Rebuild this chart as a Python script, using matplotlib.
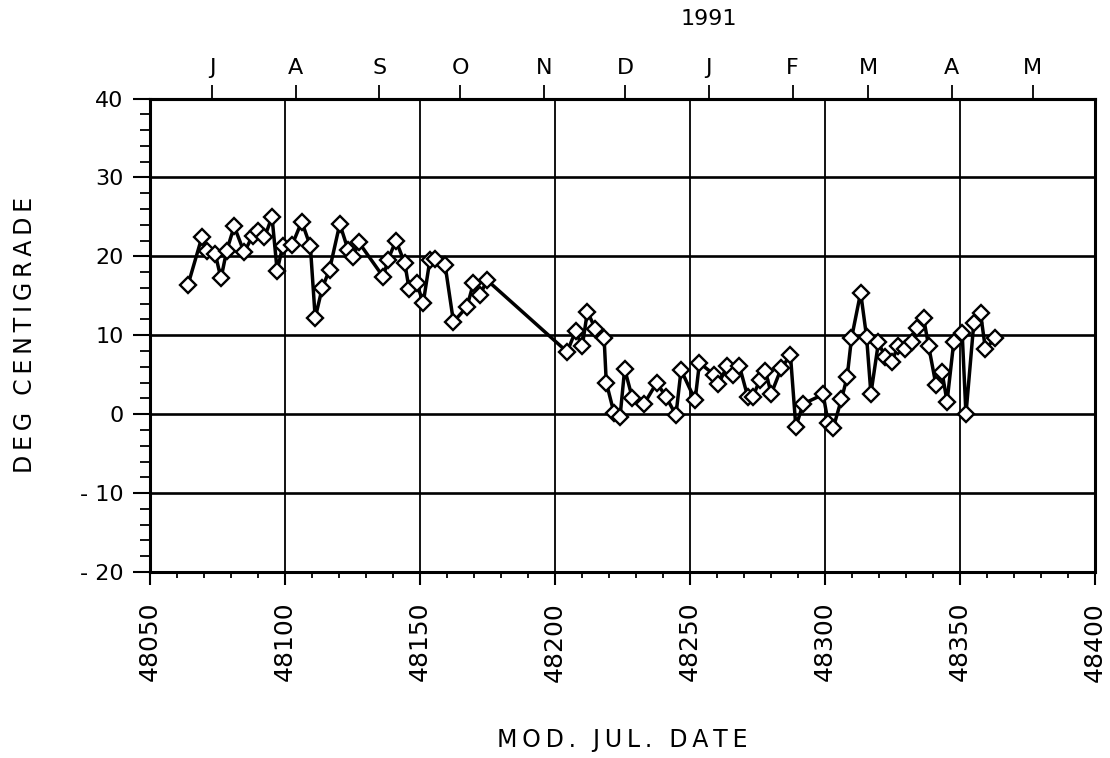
# temperature record vs modified julian date, with month ticks on top

import numpy as np
import matplotlib
matplotlib.use('Agg')
import matplotlib.pyplot as plt
from matplotlib.ticker import MultipleLocator, FuncFormatter

# data
mjd = [48064.1, 48069.2, 48071.3, 48074.2, 48076.3, 48078.4, 48081.2, 48084.9,
       48088.0, 48089.9, 48092.4, 48095.2, 48097.1, 48099.2, 48102.7, 48106.2,
       48109.4, 48111.2, 48113.8, 48116.5, 48120.3, 48123.4, 48125.2, 48127.3,
       48136.4, 48138.2, 48141.1, 48144.4, 48146.0, 48148.8, 48151.2, 48153.7,
       48155.6, 48159.3, 48162.4, 48167.4, 48169.8, 48172.3, 48174.8,
       48204.5, 48207.6, 48210.1, 48212.0, 48215.0, 48218.2, 48219.0, 48221.9,
       48224.1, 48225.8, 48228.7, 48233.0, 48237.7, 48241.1, 48244.8, 48246.7,
       48251.9, 48253.5, 48259.0, 48260.5, 48263.8, 48265.9, 48268.3, 48271.4,
       48273.3, 48275.8, 48277.9, 48280.1, 48283.8, 48287.2, 48289.2, 48291.9,
       48299.3, 48301.2, 48303.0, 48306.1, 48308.2, 48309.8, 48313.2, 48315.4,
       48317.0, 48319.8, 48322.2, 48324.7, 48327.0, 48329.7, 48332.4, 48334.0,
       48336.5, 48338.4, 48341.1, 48343.3, 48345.2, 48347.7, 48350.8, 48352.2,
       48355.1, 48357.6, 48359.4, 48363.1]
temp = [16.4, 22.4, 20.7, 20.3, 17.2, 20.7, 23.8, 20.5,
        22.6, 23.2, 22.4, 25.0, 18.2, 21.3, 21.5, 24.4,
        21.3, 12.2, 16.0, 18.3, 24.1, 20.8, 19.9, 21.8,
        17.4, 19.6, 22.0, 19.1, 15.8, 16.6, 14.1, 19.6,
        19.7, 18.9, 11.7, 13.6, 16.6, 15.1, 17.0,
        7.9, 10.5, 8.6, 13.0, 10.8, 9.6, 4.0, 0.1,
        -0.3, 5.7, 2.0, 1.3, 4.0, 2.2, -0.1, 5.6,
        1.8, 6.5, 5.0, 3.8, 6.1, 5.0, 6.1, 2.2,
        2.2, 4.3, 5.5, 2.6, 5.8, 7.5, -1.6, 1.3,
        2.5, -1.1, -1.8, 1.9, 4.7, 9.6, 15.4, 9.8,
        2.6, 9.1, 7.3, 6.6, 8.6, 8.3, 9.1, 10.9,
        12.2, 8.6, 3.7, 5.4, 1.6, 9.2, 10.3, 0.0,
        11.5, 12.8, 8.3, 9.6]

# month starts (MJD) for the top axis, jul 1990 - may 1991
month_mjd = [48073, 48104, 48135, 48165, 48196, 48226, 48257, 48288, 48316, 48347, 48377]
month_labels = ['J', 'A', 'S', 'O', 'N', 'D', 'J', 'F', 'M', 'A', 'M']
year_label = '1991'
year_mjd = 48257

plt.rcParams['font.family'] = ['DejaVu Sans']


def spaced(s):
    # plotter style lettering, a thin space between letters
    return '\u2009'.join(s)


fig = plt.figure(figsize=(11.1, 7.58), dpi=100)
ax = fig.add_axes([0.1351, 0.2454, 0.8514, 0.6246])

ax.plot(mjd, temp, color='black', lw=2.5, marker='D', markersize=8,
        markerfacecolor='white', markeredgecolor='black', markeredgewidth=1.7, zorder=3)

ax.set_xlim(48050, 48400)
ax.set_ylim(-20, 40)
ax.xaxis.set_major_locator(MultipleLocator(50))
ax.xaxis.set_minor_locator(MultipleLocator(10))
ax.yaxis.set_major_locator(MultipleLocator(10))
ax.yaxis.set_minor_locator(MultipleLocator(2))
ax.yaxis.set_major_formatter(FuncFormatter(lambda v, p: ('- %d' % -v) if v < 0 else '%d' % v))
ax.yaxis.grid(True, which='major', color='black', lw=1.9)
ax.xaxis.grid(True, which='major', color='black', lw=1.3)

ax.tick_params(which='major', direction='out', width=1.5)
ax.tick_params(which='minor', direction='out', width=1.3)
ax.tick_params(axis='y', which='major', length=12, pad=7, labelsize=16)
ax.tick_params(axis='y', which='minor', length=7)
ax.tick_params(axis='x', which='major', labelrotation=90, length=9.5, pad=12, labelsize=18)
ax.tick_params(axis='x', which='minor', length=4.5)
for s in ax.spines.values():
    s.set_linewidth(2.2)

ax.set_xlabel(spaced('MOD. JUL. DATE'), fontsize=17)
ax.xaxis.set_label_coords(0.5, -0.33)
ax.set_ylabel(spaced('DEG CENTIGRADE'), fontsize=17)
ax.yaxis.set_label_coords(-0.12, 0.5)

# months on the top
top = ax.secondary_xaxis('top')
top.set_xticks(month_mjd)
top.set_xticklabels(month_labels)
top.tick_params(direction='out', length=10, width=1.3, labelsize=16, pad=5)
top.spines['top'].set_linewidth(2.2)
ax.text(year_mjd, 1.168, year_label, transform=ax.get_xaxis_transform(),
        ha='center', va='center', fontsize=16)

fig.savefig('out.png', dpi=100)
